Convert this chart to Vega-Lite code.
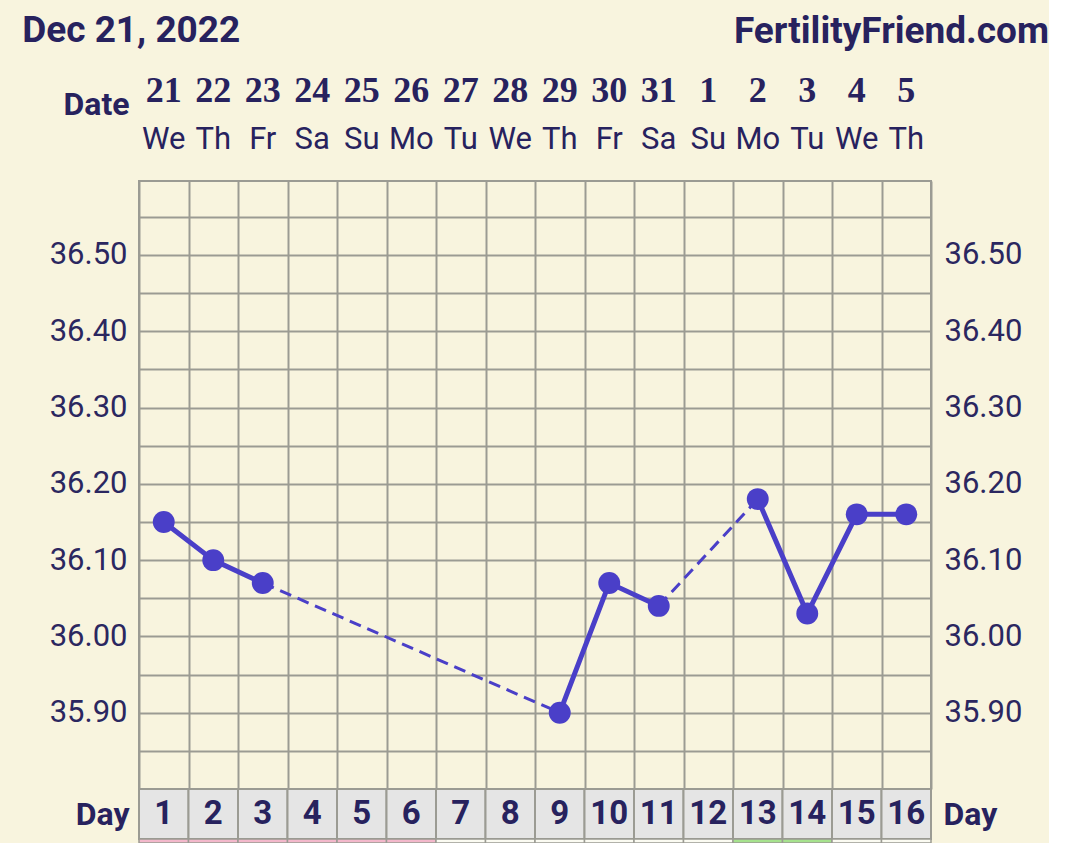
{
  "$schema": "https://vega.github.io/schema/vega-lite/v6.json",
  "background": "#f8f4de",
  "padding": {"left": 22, "top": 12, "right": 0, "bottom": 0},
  "spacing": 0,
  "bounds": "flush",
  "title": {"text": "Dec 21, 2022", "anchor": "start", "frame": "bounds", "font": "Roboto", "fontSize": 37, "fontWeight": "bold", "color": "#27225e", "baseline": "alphabetic", "dx": -26, "dy": 70},
  "datasets": {
    "days": [
      {"day": 1, "date": "21", "wd": "We", "phase": "menses"},
      {"day": 2, "date": "22", "wd": "Th", "phase": "menses"},
      {"day": 3, "date": "23", "wd": "Fr", "phase": "menses"},
      {"day": 4, "date": "24", "wd": "Sa", "phase": "menses"},
      {"day": 5, "date": "25", "wd": "Su", "phase": "menses"},
      {"day": 6, "date": "26", "wd": "Mo", "phase": "menses"},
      {"day": 7, "date": "27", "wd": "Tu", "phase": "none"},
      {"day": 8, "date": "28", "wd": "We", "phase": "none"},
      {"day": 9, "date": "29", "wd": "Th", "phase": "none"},
      {"day": 10, "date": "30", "wd": "Fr", "phase": "none"},
      {"day": 11, "date": "31", "wd": "Sa", "phase": "none"},
      {"day": 12, "date": "1", "wd": "Su", "phase": "none"},
      {"day": 13, "date": "2", "wd": "Mo", "phase": "fertile"},
      {"day": 14, "date": "3", "wd": "Tu", "phase": "fertile"},
      {"day": 15, "date": "4", "wd": "We", "phase": "none"},
      {"day": 16, "date": "5", "wd": "Th", "phase": "none"}
    ],
    "temps": [
      {"day": 1, "temp": 36.15},
      {"day": 2, "temp": 36.10},
      {"day": 3, "temp": 36.07},
      {"day": 9, "temp": 35.90},
      {"day": 10, "temp": 36.07},
      {"day": 11, "temp": 36.04},
      {"day": 13, "temp": 36.18},
      {"day": 14, "temp": 36.03},
      {"day": 15, "temp": 36.16},
      {"day": 16, "temp": 36.16}
    ],
    "solid": [
      {"day": 1, "temp": 36.15, "seg": "a"},
      {"day": 2, "temp": 36.10, "seg": "a"},
      {"day": 3, "temp": 36.07, "seg": "a"},
      {"day": 9, "temp": 35.90, "seg": "b"},
      {"day": 10, "temp": 36.07, "seg": "b"},
      {"day": 11, "temp": 36.04, "seg": "b"},
      {"day": 13, "temp": 36.18, "seg": "c"},
      {"day": 14, "temp": 36.03, "seg": "c"},
      {"day": 15, "temp": 36.16, "seg": "c"},
      {"day": 16, "temp": 36.16, "seg": "c"}
    ],
    "dashed": [
      {"day": 3, "temp": 36.07, "seg": "d1"},
      {"day": 9, "temp": 35.90, "seg": "d1"},
      {"day": 11, "temp": 36.04, "seg": "d2"},
      {"day": 13, "temp": 36.18, "seg": "d2"}
    ]
  },
  "vconcat": [
    {
      "width": 792,
      "height": 120,
      "title": {"text": "FertilityFriend.com", "anchor": "end", "frame": "group", "dx": 118, "offset": -19, "baseline": "alphabetic", "font": "Roboto", "fontSize": 37, "fontWeight": "bold", "color": "#27225e"},
      "data": {"name": "days"},
      "layer": [
        {
          "mark": {"type": "text", "font": "Liberation Serif", "fontWeight": "bold", "fontSize": 36, "color": "#27225e"},
          "encoding": {
            "x": {"field": "day", "type": "quantitative", "scale": {"domain": [0.5, 16.5], "nice": false, "zero": false}, "axis": null},
            "y": {"datum": "date", "type": "nominal", "scale": {"type": "point", "domain": ["date", "weekday"], "padding": 0.7245, "align": 0.4225},
                  "axis": {"labels": false, "ticks": false, "domain": false, "grid": false, "title": "Date", "titleAngle": 0, "titleAlign": "right", "titleBaseline": "middle", "titleX": -10, "titleY": 43, "titleFont": "Roboto", "titleFontSize": 32, "titleFontWeight": "bold", "titleColor": "#27225e"}},
            "text": {"field": "date"}
          }
        },
        {
          "mark": {"type": "text", "font": "Roboto", "fontSize": 31, "color": "#27225e"},
          "encoding": {
            "x": {"field": "day", "type": "quantitative", "scale": {"domain": [0.5, 16.5], "nice": false, "zero": false}, "axis": null},
            "y": {"datum": "weekday", "type": "nominal"},
            "text": {"field": "wd"}
          }
        }
      ]
    },
    {
      "width": 792,
      "height": 608,
      "view": {"stroke": "#9b9b93", "strokeWidth": 2},
      "layer": [
        {
          "data": {"name": "solid"},
          "mark": {"type": "line", "color": "#4a3fc8", "strokeWidth": 5},
          "encoding": {
            "x": {"field": "day", "type": "quantitative", "scale": {"domain": [0.5, 16.5], "nice": false, "zero": false},
                  "axis": {"values": [0.5,1.5,2.5,3.5,4.5,5.5,6.5,7.5,8.5,9.5,10.5,11.5,12.5,13.5,14.5,15.5,16.5], "grid": true, "gridColor": "#9b9b93", "gridWidth": 2, "gridOpacity": 1, "labels": false, "ticks": false, "domain": false, "title": null, "minExtent": 0, "maxExtent": 0, "offset": 0}},
            "y": {"field": "temp", "type": "quantitative", "scale": {"domain": [35.8, 36.597], "nice": false, "zero": false},
                  "axis": {"orient": "left", "values": [35.85,35.9,35.95,36,36.05,36.1,36.15,36.2,36.25,36.3,36.35,36.4,36.45,36.5,36.55], "labelExpr": "abs(datum.value*10 - round(datum.value*10)) < 0.01 ? format(datum.value, '.2f') : ''", "grid": true, "gridColor": "#9b9b93", "gridWidth": 2, "gridOpacity": 1, "ticks": false, "domain": false, "title": null, "labelFont": "Roboto", "labelFontSize": 31, "labelColor": "#2b2760", "labelPadding": 12}},
            "detail": {"field": "seg"}
          }
        },
        {
          "data": {"name": "dashed"},
          "mark": {"type": "line", "color": "#4a3fc8", "strokeWidth": 3, "strokeDash": [12, 7]},
          "encoding": {
            "x": {"field": "day", "type": "quantitative", "scale": {"domain": [0.5, 16.5], "nice": false, "zero": false}},
            "y": {"field": "temp", "type": "quantitative", "scale": {"domain": [35.8, 36.597], "nice": false, "zero": false},
                  "axis": {"orient": "right", "values": [35.85,35.9,35.95,36,36.05,36.1,36.15,36.2,36.25,36.3,36.35,36.4,36.45,36.5,36.55], "labelExpr": "abs(datum.value*10 - round(datum.value*10)) < 0.01 ? format(datum.value, '.2f') : ''", "grid": false, "ticks": false, "domain": false, "title": null, "labelFont": "Roboto", "labelFontSize": 31, "labelColor": "#2b2760", "labelPadding": 13}},
            "detail": {"field": "seg"}
          }
        },
        {
          "data": {"name": "temps"},
          "mark": {"type": "point", "filled": true, "size": 480, "color": "#4a3fc8", "opacity": 1},
          "encoding": {
            "x": {"field": "day", "type": "quantitative", "scale": {"domain": [0.5, 16.5], "nice": false, "zero": false}},
            "y": {"field": "temp", "type": "quantitative", "scale": {"domain": [35.8, 36.597], "nice": false, "zero": false}, "axis": null}
          }
        }
      ],
      "resolve": {"scale": {"y": "independent"}}
    },
    {
      "width": 792,
      "height": 50,
      "data": {"name": "days"},
      "layer": [
        {
          "mark": {"type": "rect", "fill": "#e5e5e5", "stroke": "#9b9b93", "strokeWidth": 2},
          "encoding": {
            "x": {"field": "day", "type": "ordinal", "scale": {"paddingInner": 0, "paddingOuter": 0}, "axis": null},
            "y": {"datum": 0, "type": "quantitative", "scale": {"domain": [0, 1], "nice": false},
                  "axis": {"labels": false, "ticks": false, "domain": false, "grid": false, "title": "Day", "titleAngle": 0, "titleAlign": "right", "titleBaseline": "middle", "titleX": -10, "titleY": 25, "titleFont": "Roboto", "titleFontSize": 32, "titleFontWeight": "bold", "titleColor": "#27225e"}},
            "y2": {"datum": 1}
          }
        },
        {
          "mark": {"type": "text", "font": "Roboto", "fontWeight": "bold", "fontSize": 33, "color": "#27225e"},
          "encoding": {
            "x": {"field": "day", "type": "ordinal", "scale": {"paddingInner": 0, "paddingOuter": 0}, "axis": null},
            "y": {"datum": 0.5, "type": "quantitative", "scale": {"domain": [0, 1], "nice": false},
                  "axis": {"orient": "right", "labels": false, "ticks": false, "domain": false, "grid": false, "title": "Day", "titleAngle": 0, "titleAlign": "left", "titleBaseline": "middle", "titleX": 12, "titleY": 25, "titleFont": "Roboto", "titleFontSize": 32, "titleFontWeight": "bold", "titleColor": "#27225e"}},
            "text": {"field": "day"}
          }
        }
      ],
      "resolve": {"scale": {"y": "independent"}}
    },
    {
      "width": 792,
      "height": 4,
      "data": {"name": "days"},
      "mark": {"type": "rect", "stroke": "#9b9b93", "strokeWidth": 1.5},
      "encoding": {
        "x": {"field": "day", "type": "ordinal", "scale": {"paddingInner": 0, "paddingOuter": 0}, "axis": null},
        "fill": {"field": "phase", "type": "nominal", "scale": {"domain": ["menses", "none", "fertile"], "range": ["#f3b8cb", "#fbfbf2", "#a6e28e"]}, "legend": null}
      }
    }
  ],
  "config": {"view": {"stroke": null}, "font": "Roboto"}
}
